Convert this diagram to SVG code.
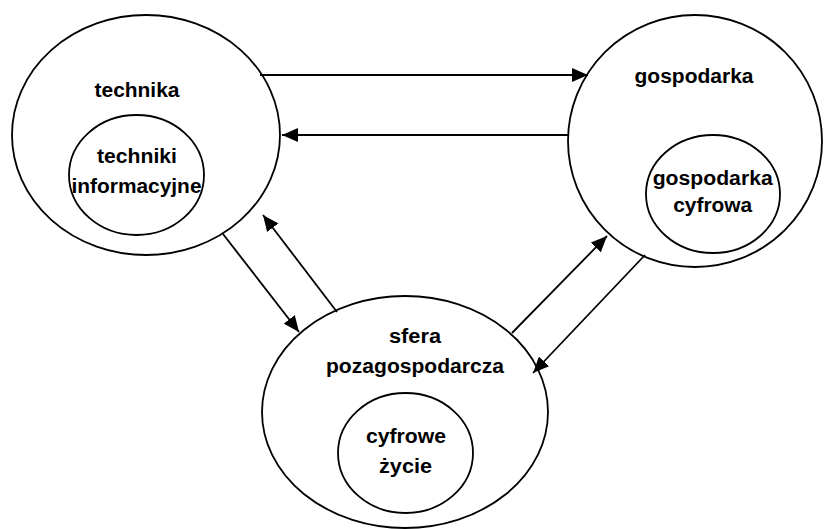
<svg xmlns="http://www.w3.org/2000/svg" width="827" height="529" viewBox="0 0 827 529">
<style>
.e{fill:none;stroke:#000;stroke-width:1.8}
.c line{stroke:#000;stroke-width:1.8}
text{font-family:"Liberation Sans",Arial,sans-serif;font-weight:bold;font-size:20px;text-anchor:middle;fill:#000}
</style>
<defs>
<marker id="ah" viewBox="0 0 16 14" refX="16" refY="7" markerWidth="16" markerHeight="14" markerUnits="userSpaceOnUse" orient="auto"><path d="M0,0 L16,7 L0,14 z" fill="#000"/></marker>
</defs>
<rect width="827" height="529" fill="#fff"/>
<g id="technika">
<ellipse class="e" cx="146" cy="135" rx="134" ry="120"/>
<text x="137" y="97" textLength="85" lengthAdjust="spacingAndGlyphs">technika</text>
</g>
<g id="techniki-informacyjne">
<ellipse class="e" cx="136.5" cy="175" rx="67.5" ry="60"/>
<text x="137" y="163" textLength="80" lengthAdjust="spacingAndGlyphs">techniki</text>
<text x="136.5" y="193" textLength="130" lengthAdjust="spacingAndGlyphs">informacyjne</text>
</g>
<g id="gospodarka">
<ellipse class="e" cx="695" cy="141" rx="127" ry="126"/>
<text x="694" y="83" textLength="119" lengthAdjust="spacingAndGlyphs">gospodarka</text>
</g>
<g id="gospodarka-cyfrowa">
<ellipse class="e" cx="713" cy="194" rx="67" ry="59"/>
<text x="712.7" y="185" textLength="120" lengthAdjust="spacingAndGlyphs">gospodarka</text>
<text x="712.7" y="212" textLength="79" lengthAdjust="spacingAndGlyphs">cyfrowa</text>
</g>
<g id="sfera-pozagospodarcza">
<ellipse class="e" cx="405" cy="412" rx="143" ry="116"/>
<text x="415" y="343" textLength="52" lengthAdjust="spacingAndGlyphs">sfera</text>
<text x="415" y="373" textLength="178" lengthAdjust="spacingAndGlyphs">pozagospodarcza</text>
</g>
<g id="cyfrowe-zycie">
<ellipse class="e" cx="405.5" cy="453" rx="67.5" ry="60"/>
<text x="406" y="443" textLength="80" lengthAdjust="spacingAndGlyphs">cyfrowe</text>
<text x="405.5" y="473" textLength="53" lengthAdjust="spacingAndGlyphs">życie</text>
</g>
<g class="c" id="connectors">
<line x1="260" y1="75" x2="588" y2="75" marker-end="url(#ah)"/>
<line x1="568" y1="135" x2="282" y2="135" marker-end="url(#ah)"/>
<line x1="223" y1="234" x2="299" y2="332" marker-end="url(#ah)"/>
<line x1="337" y1="312" x2="263" y2="215" marker-end="url(#ah)"/>
<line x1="512" y1="333" x2="607" y2="236" marker-end="url(#ah)"/>
<line x1="645" y1="255" x2="533" y2="373" marker-end="url(#ah)"/>
</g>
</svg>
